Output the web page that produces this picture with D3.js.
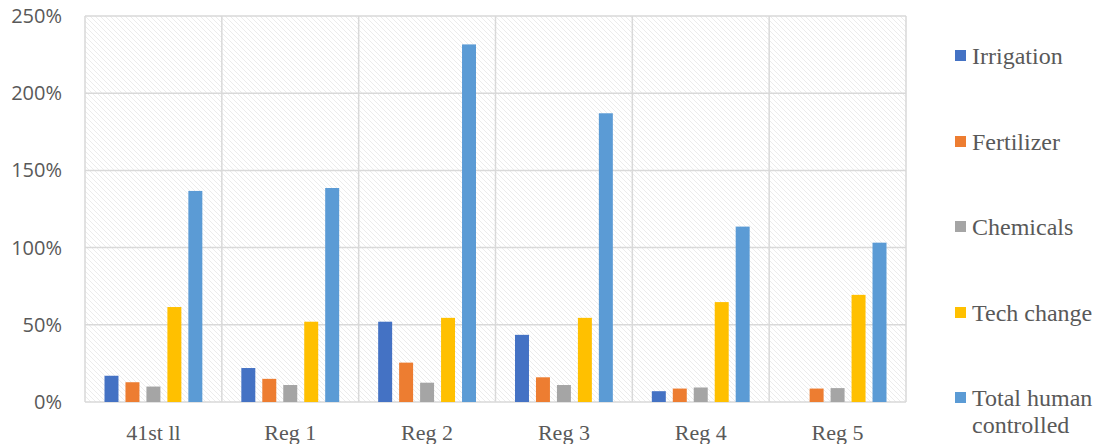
<!DOCTYPE html>
<html>
<head>
<meta charset="utf-8">
<script src="https://cdn.jsdelivr.net/npm/d3@7"></script>
<style>
  html, body { margin: 0; padding: 0; background: #fff; }
  svg { display: block; }
</style>
</head>
<body>
<svg id="chart" width="1098" height="444"></svg>
<script>
// Regions along the x axis
const categories = ["41st ll", "Reg 1", "Reg 2", "Reg 3", "Reg 4", "Reg 5"];

// Series names and colours
const seriesNames = ["Irrigation", "Fertilizer", "Chemicals", "Tech change", "Total human controlled"];
const seriesColors = ["#4472c4", "#ed7d31", "#a5a5a5", "#ffc000", "#5b9bd5"];

// Percent values per series, one entry per region
const irrigation = [17, 22, 52, 43.5, 7, 0];
const fertilizer = [12.8, 15, 25.5, 16, 8.7, 8.7];
const chemicals  = [10, 11, 12.5, 11, 9.4, 9];
const techChange = [61.5, 52, 54.5, 54.5, 64.7, 69.4];
const totalHuman = [136.7, 138.6, 231.6, 187, 113.6, 103.2];

const yTicks = [0, 50, 100, 150, 200, 250];

const seriesValues = [irrigation, fertilizer, chemicals, techChange, totalHuman];

const svg = d3.select("#chart");
const margin = { left: 85, right: 192, top: 16, bottom: 42 };
const width = 1098, height = 444;
const plotW = width - margin.left - margin.right;
const plotH = height - margin.top - margin.bottom;

// Light diagonal hatch for the plot background
const defs = svg.append("defs");
const pat = defs.append("pattern")
  .attr("id", "hatch")
  .attr("patternUnits", "userSpaceOnUse")
  .attr("width", 5).attr("height", 5);
pat.append("rect").attr("width", 5).attr("height", 5).attr("fill", "#ffffff");
pat.append("path")
  .attr("d", "M-1,-1 L6,6 M-1,4 L1,6 M4,-1 L6,1")
  .attr("stroke", "#ececec").attr("stroke-width", 1);

const g = svg.append("g").attr("transform", `translate(${margin.left},${margin.top})`);

const y = d3.scaleLinear().domain([0, 250]).range([plotH, 0]);
const x0 = d3.scaleBand().domain(categories).range([0, plotW]).padding(0);
const groupPad = 19.5;
const x1 = d3.scaleBand().domain(seriesNames)
  .range([groupPad, x0.bandwidth() - groupPad])
  .paddingInner(1 / 3).paddingOuter(0);

g.append("rect").attr("width", plotW).attr("height", plotH).attr("fill", "url(#hatch)");

// Horizontal gridlines
g.append("g").selectAll("line").data(yTicks).join("line")
  .attr("x1", 0).attr("x2", plotW)
  .attr("y1", d => y(d)).attr("y2", d => y(d))
  .attr("stroke", "#d9d9d9").attr("stroke-width", 1.5);

// Vertical separators between regions
const seps = categories.map(c => x0(c)).concat([plotW]);
g.append("g").selectAll("line").data(seps).join("line")
  .attr("x1", d => d).attr("x2", d => d)
  .attr("y1", 0).attr("y2", plotH)
  .attr("stroke", "#d9d9d9").attr("stroke-width", 1.5);

// Bars
const groups = g.append("g").selectAll("g").data(categories).join("g")
  .attr("transform", d => `translate(${x0(d)},0)`);
groups.selectAll("rect")
  .data((c, ci) => seriesNames.map((s, si) => ({ s, si, v: seriesValues[si][ci] })))
  .join("rect")
  .filter(d => d.v > 0)
  .attr("x", d => x1(d.s))
  .attr("width", x1.bandwidth())
  .attr("y", d => y(d.v))
  .attr("height", d => y(0) - y(d.v))
  .attr("fill", d => seriesColors[d.si]);

// Y axis labels
const yAxis = d3.axisLeft(y).tickValues(yTicks).tickFormat(d => d + "%").tickSize(0).tickPadding(23);
const ya = g.append("g").call(yAxis);
ya.select(".domain").remove();
ya.selectAll("text")
  .attr("fill", "#595959")
  .style("font-family", "'Open Sans', 'Noto Sans', sans-serif")
  .style("font-size", "20px");

// X axis labels
const xAxis = d3.axisBottom(x0).tickSize(0).tickPadding(22);
const xa = g.append("g").attr("transform", `translate(0,${plotH})`).call(xAxis);
xa.select(".domain").remove();
xa.selectAll("text")
  .attr("fill", "#595959")
  .style("font-family", "'Liberation Serif', 'Times New Roman', serif")
  .style("font-size", "22px");

// Legend
const legendY = [56, 142, 227, 313, 398];
const legend = svg.append("g").selectAll("g").data(seriesNames).join("g")
  .attr("transform", (d, i) => `translate(955,${legendY[i]})`);
legend.append("rect")
  .attr("x", 0).attr("y", -6).attr("width", 11).attr("height", 11)
  .attr("fill", (d, i) => seriesColors[i]);
legend.append("text")
  .attr("x", 17).attr("y", 0)
  .attr("fill", "#595959")
  .style("font-family", "'Liberation Serif', 'Times New Roman', serif")
  .style("font-size", "24px")
  .each(function (d) {
    const words = d === "Total human controlled" ? ["Total human", "controlled"] : [d];
    const t = d3.select(this);
    words.forEach((w, k) => {
      t.append("tspan").attr("x", 17).attr("dy", k === 0 ? "0.35em" : "27px").text(w);
    });
  });
</script>
</body>
</html>
